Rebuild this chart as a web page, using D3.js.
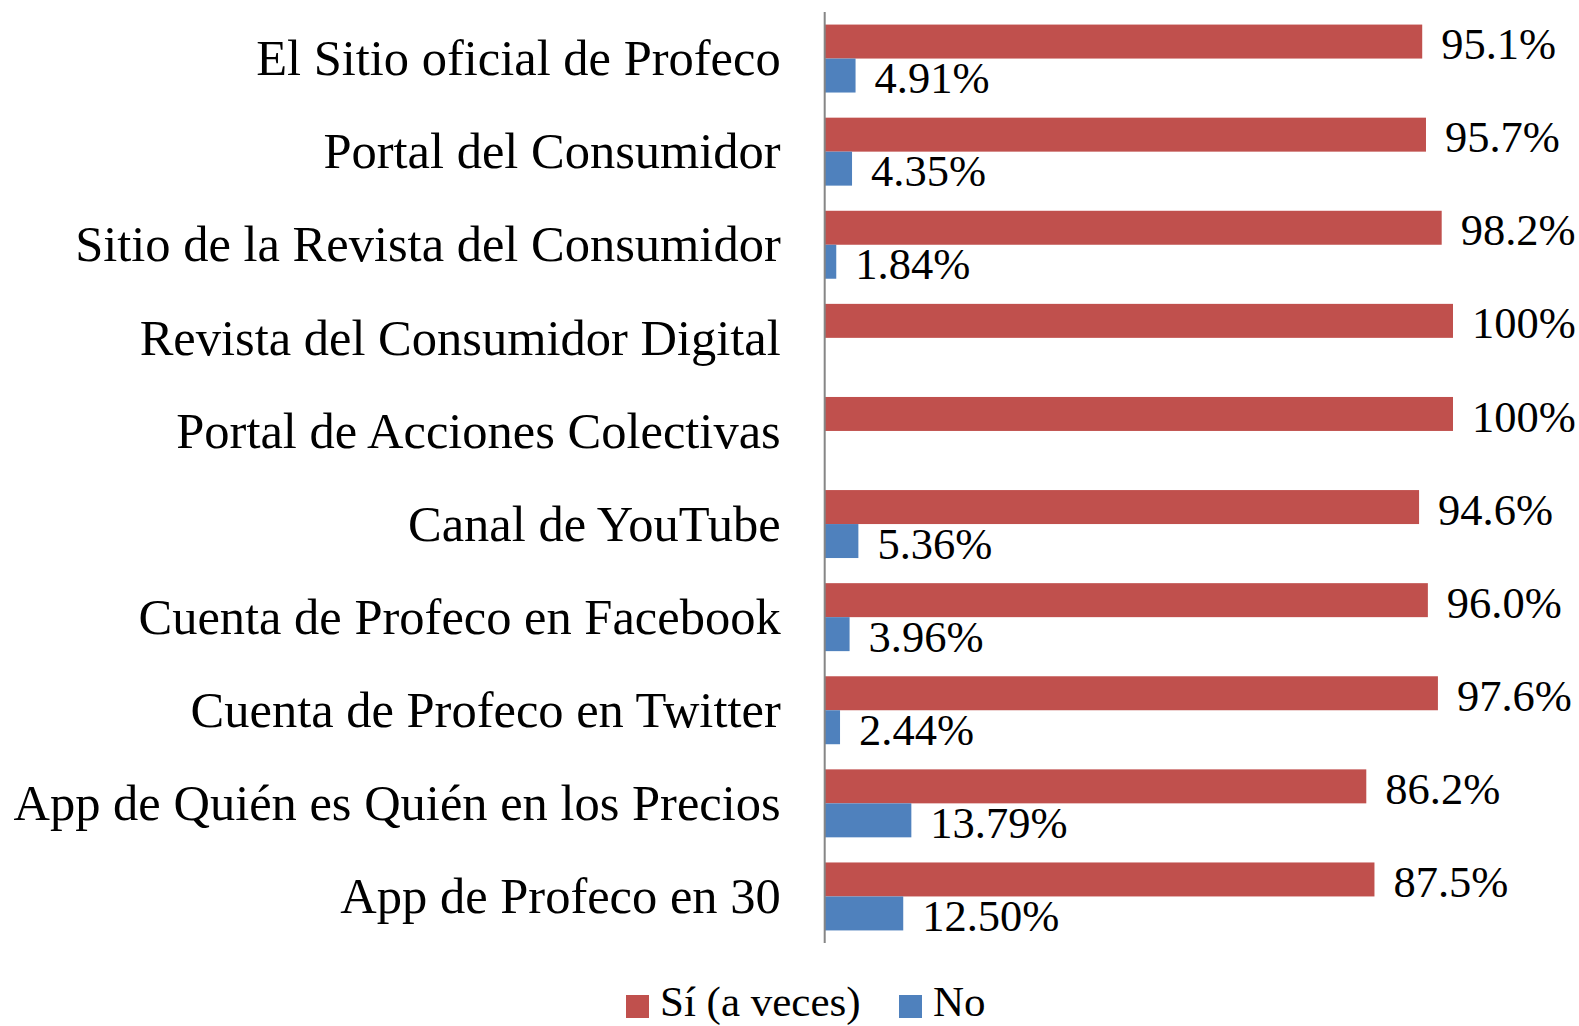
<!DOCTYPE html>
<html><head><meta charset="utf-8">
<script src="https://cdn.jsdelivr.net/npm/d3@7"></script>
<style>body{margin:0;background:#fff}svg{display:block}text{font-family:"Liberation Serif",serif;fill:#000}</style>
</head><body><svg id="c" width="1579" height="1026"></svg>
<script>
const categories = ["El Sitio oficial de Profeco","Portal del Consumidor","Sitio de la Revista del Consumidor","Revista del Consumidor Digital","Portal de Acciones Colectivas","Canal de YouTube","Cuenta de Profeco en Facebook","Cuenta de Profeco en Twitter","App de Quién es Quién en los Precios","App de Profeco en 30"];
const siValues = [0.951,0.957,0.982,1.0,1.0,0.946,0.960,0.976,0.862,0.875];
const noValues = [0.0491,0.0435,0.0184,0,0,0.0536,0.0396,0.0244,0.1379,0.1250];
const siLabels = ["95.1%","95.7%","98.2%","100%","100%","94.6%","96.0%","97.6%","86.2%","87.5%"];
const noLabels = ["4.91%","4.35%","1.84%","","","5.36%","3.96%","2.44%","13.79%","12.50%"];
const seriesNames = ["Sí (a veces)","No"];
const colors = ["#C0504D","#4F81BD"];

const svg = d3.select("#c");
const x = d3.scaleLinear().domain([0,1]).range([824.7,1453]);
const y = d3.scaleBand().domain(categories).range([12,943]).paddingInner(0.27).paddingOuter(0.135);
const ys = d3.scaleBand().domain([0,1]).range([0,y.bandwidth()]);

const g = svg.append("g");
categories.forEach((c,i)=>{
  const vals=[siValues[i],noValues[i]], labs=[siLabels[i],noLabels[i]];
  vals.forEach((v,j)=>{
    if(v>0){
      g.append("rect").attr("x",x(0)).attr("y",y(c)+ys(j)).attr("width",x(v)-x(0)).attr("height",ys.bandwidth()).attr("fill",colors[j]);
    }
    if(labs[j]){
      g.append("text").attr("x",x(v)+19).attr("y",y(c)+ys(j)+ys.bandwidth()/2+2).attr("dy","0.35em")
        .attr("font-size",44.5).text(labs[j]);
    }
  });
});
// axis
const ax = d3.axisLeft(y).tickSize(0).tickPadding(44);
const axg = svg.append("g").attr("transform",`translate(${x(0)},0)`).call(ax);
axg.select(".domain").attr("stroke","#868686").attr("stroke-width",2).attr("d",`M0,12V943`);
axg.selectAll("text").attr("font-size",50.5).attr("font-family","Liberation Serif").attr("fill","#000").attr("dy","0.33em");

// legend
const leg = svg.append("g");
const lx=[626,899];
seriesNames.forEach((n,j)=>{
  leg.append("rect").attr("x",lx[j]).attr("y",995).attr("width",23).attr("height",23).attr("fill",colors[j]);
  leg.append("text").attr("x",lx[j]+34).attr("y",1016).attr("font-size",43).text(n);
});
</script></body></html>
